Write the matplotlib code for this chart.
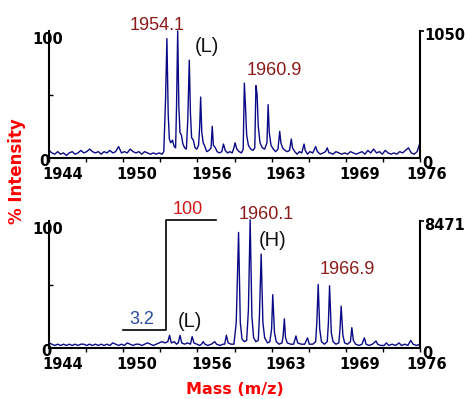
import matplotlib
matplotlib.use("Agg")
import matplotlib.pyplot as plt
from matplotlib.transforms import ScaledTranslation

# ---------------- data ----------------
x_min, x_max = 1944.0, 1976.0
major_ticks = [1944.0, 1950.4, 1956.8, 1963.2, 1969.6, 1976.0]
major_labels = ["1944", "1950", "1956", "1963", "1969", "1976"]
minor_ticks = [1947.2, 1953.6, 1960.0, 1966.4, 1972.8]

top_abs_max = "1050"
bottom_abs_max = "8471"

# top spectrum (light-labelled sample)
top_mass = [
    1944.00, 1944.25, 1944.50, 1944.75, 1945.00, 1945.25, 1945.50, 1945.75,
    1946.00, 1946.25, 1946.50, 1946.75, 1947.00, 1947.25, 1947.50, 1947.75,
    1948.00, 1948.25, 1948.50, 1948.75, 1949.00, 1949.25, 1949.50, 1949.75,
    1950.00, 1950.25, 1950.50, 1950.75, 1951.00, 1951.25, 1951.50, 1951.75,
    1952.00, 1952.25, 1952.50, 1952.75, 1953.00, 1953.25, 1953.50, 1953.75,
    1953.90, 1954.05, 1954.17, 1954.28, 1954.38, 1954.50, 1954.65, 1954.80,
    1954.92, 1955.00, 1955.10, 1955.20, 1955.30, 1955.42, 1955.55, 1955.70,
    1955.85, 1955.97, 1956.10, 1956.20, 1956.30, 1956.45, 1956.60, 1956.75,
    1956.90, 1957.00, 1957.08, 1957.18, 1957.30, 1957.45, 1957.60, 1957.80,
    1957.98, 1958.08, 1958.18, 1958.35, 1958.50, 1958.70, 1958.90, 1959.05,
    1959.20, 1959.40, 1959.60, 1959.80, 1959.95, 1960.05, 1960.20, 1960.40,
    1960.60, 1960.75, 1960.85, 1960.95, 1961.05, 1961.20, 1961.40, 1961.60,
    1961.75, 1961.85, 1961.95, 1962.05, 1962.20, 1962.40, 1962.60, 1962.80,
    1962.90, 1963.00, 1963.15, 1963.35, 1963.55, 1963.75, 1963.90, 1964.00,
    1964.15, 1964.35, 1964.55, 1964.75, 1964.90, 1965.00, 1965.20, 1965.40,
    1965.60, 1965.80, 1966.00, 1966.10, 1966.30, 1966.50, 1966.75, 1967.00,
    1967.15, 1967.40, 1967.65, 1967.85, 1968.00, 1968.15,
    1968.25, 1968.50, 1968.75, 1969.00, 1969.25, 1969.50, 1969.75, 1970.00,
    1970.25, 1970.50, 1970.75, 1971.00, 1971.25, 1971.50, 1971.75, 1972.00,
    1972.25, 1972.50, 1972.75, 1973.00, 1973.25, 1973.50, 1973.75, 1974.00,
    1974.25, 1974.50, 1974.75, 1975.00, 1975.25, 1975.50, 1975.75, 1976.00,
]
top_intensity = [
    6, 4, 3, 5, 3, 4, 2, 4,
    5, 3, 4, 6, 4, 5, 7, 5,
    4, 5, 3, 5, 4, 6, 4, 5,
    9, 4, 5, 4, 7, 5, 4, 5,
    3, 5, 4, 3, 4, 3, 4, 3,
    5, 45, 94, 35, 15, 12, 14, 9,
    8, 40, 100, 40, 20, 18, 11, 8,
    7, 30, 77, 35, 16, 14, 8, 7,
    10, 25, 48, 20, 12, 9, 5, 6,
    8, 25, 10, 8, 5, 4, 5, 11,
    6, 4, 5, 4, 8, 12, 7, 5,
    4, 7, 59, 40, 18, 10, 7, 6,
    8, 57, 50, 25, 12, 8, 7, 12,
    42, 20, 10, 7, 5, 7, 21, 12,
    8, 6, 5, 6, 15, 8, 5, 3,
    5, 4, 11, 6, 3, 5, 4, 9,
    5, 3, 4, 5, 8, 4,
    4, 3, 5, 4, 3, 4, 3, 5,
    4, 3, 4, 5, 3, 6, 4, 7,
    4, 5, 3, 6, 4, 3, 4, 3,
    5, 4, 6, 8, 4, 3, 5, 12,
]

# bottom spectrum (light + heavy mixture)
bottom_mass = [
    1944.00, 1944.25, 1944.50, 1944.75, 1945.00, 1945.25, 1945.50, 1945.75,
    1946.00, 1946.25, 1946.50, 1946.75, 1947.00, 1947.25, 1947.50, 1947.75,
    1948.00, 1948.25, 1948.50, 1948.75, 1949.00, 1949.25, 1949.50, 1949.75,
    1950.00, 1950.25, 1950.50, 1950.75, 1951.00, 1951.25, 1951.50, 1951.75,
    1952.00, 1952.25, 1952.50, 1952.75, 1953.00, 1953.25, 1953.50, 1953.75,
    1954.00, 1954.25, 1954.40, 1954.55, 1954.80, 1955.00, 1955.15, 1955.30,
    1955.45, 1955.70, 1955.95, 1956.20, 1956.35, 1956.50, 1956.75, 1957.00,
    1957.15, 1957.30, 1957.45, 1957.70, 1958.00, 1958.30, 1958.45, 1958.75,
    1959.00, 1959.15, 1959.30, 1959.45, 1959.70, 1959.95, 1960.15, 1960.35,
    1960.50, 1960.65, 1960.85, 1961.05, 1961.20, 1961.35, 1961.50, 1961.65,
    1961.85, 1962.05, 1962.15, 1962.30, 1962.45, 1962.60, 1962.85, 1963.05,
    1963.20, 1963.30, 1963.45, 1963.60, 1963.85, 1964.10, 1964.20, 1964.30,
    1964.40, 1964.55, 1964.85, 1965.10, 1965.30, 1965.45, 1965.75, 1966.05,
    1966.30, 1966.45, 1966.75, 1967.00, 1967.10, 1967.22, 1967.35, 1967.50,
    1967.75, 1968.00, 1968.10, 1968.20, 1968.35, 1968.50, 1968.75, 1969.00,
    1969.10, 1969.20, 1969.35, 1969.50, 1969.75, 1970.00, 1970.12, 1970.25,
    1970.45, 1970.75, 1971.00, 1971.20, 1971.35, 1971.60, 1971.90, 1972.20,
    1972.35, 1972.60, 1972.90, 1973.10, 1973.30, 1973.60, 1973.90, 1974.20,
    1974.40, 1974.70, 1974.95, 1975.20, 1975.40, 1975.70, 1976.00,
]
bottom_intensity = [
    4, 3, 2, 3, 2, 3, 2, 3,
    2, 3, 2, 3, 3, 2, 3, 2,
    3, 2, 3, 2, 3, 2, 4, 3,
    2, 3, 2, 4, 3, 2, 3, 3,
    2, 3, 4, 3, 2, 3, 4, 5,
    4, 5, 10, 4, 5, 3, 4, 10,
    4, 3, 4, 3, 9, 4, 3, 2,
    3, 5, 3, 2, 3, 5, 3, 2,
    3, 3, 10, 4, 3, 3, 20, 91,
    20, 7, 5, 6, 30, 101, 25, 8,
    5, 6, 25, 74, 20, 8, 4, 5,
    15, 42, 12, 5, 3, 4, 10, 23,
    8, 4, 3, 3, 9.5, 4, 3, 3,
    8, 3, 3, 5, 20, 50, 15, 5,
    3, 5, 20, 49, 12, 5, 3, 4,
    15, 33, 10, 4, 3, 5, 16, 6,
    3, 2, 3, 8, 3, 2, 3, 5.5,
    3, 2, 2, 4, 2, 3, 2, 4,
    2, 3, 2, 6, 3, 2, 3,
]

# annotations
top_peak_labels = ["1954.1", "1960.9"]
top_peak_label_pos = [(1953.3, 104.7), (1963.4, 68.7)]
top_species = "(L)"
top_species_pos = (1957.66, 87.6)

bottom_peak_labels = ["1960.1", "1966.9"]
bottom_peak_label_pos = [(1962.7, 105.5), (1969.7, 62.0)]
bottom_species = ["(H)", "(L)"]
bottom_species_pos = [(1963.3, 84.4), (1956.16, 20.9)]

ratio_step_x = [1950.4, 1954.06, 1954.06, 1958.4]
ratio_step_y = [14.3, 14.3, 101.0, 101.0]
ratio_low_label, ratio_low_pos = "3.2", (1952.0, 22.2)
ratio_high_label, ratio_high_pos = "100", (1955.98, 109.0)

# ---------------- style ----------------
LINE_C = "#0a0a86"
PEAK_C = "#8b1a1a"
RED = "#ff0000"
W, H, DPI = 465, 399, 100

fig = plt.figure(figsize=(W / DPI, H / DPI), dpi=DPI)
ax_top = fig.add_axes([49 / W, 1 - 158 / H, 371 / W, 127 / H])
ax_bot = fig.add_axes([49 / W, 1 - 348 / H, 371 / W, 127 / H])

tick_font = dict(family="DejaVu Sans", weight="bold", size=10.5, color="black")


def px(fig, dx, dy):
    return ScaledTranslation(dx / DPI, dy / DPI, fig.dpi_scale_trans)


def style_axes(ax, abs_label, zero_dx_left):
    ax.set_xlim(x_min, x_max)
    ax.set_ylim(0, 100)
    ax.spines["top"].set_visible(False)
    for s in ("left", "right", "bottom"):
        ax.spines[s].set_linewidth(1.5)
        ax.spines[s].set_color("black")
    ax.set_xticks(major_ticks)
    ax.set_xticklabels(major_labels)
    ax.set_xticks(minor_ticks, minor=True)
    ax.tick_params(axis="x", which="both", direction="out", length=3,
                   width=1, pad=3.5)
    for lab in ax.get_xticklabels():
        lab.set_fontfamily("DejaVu Sans")
        lab.set_fontweight("bold")
        lab.set_fontsize(10.5)
    labs = ax.get_xticklabels()
    for i, lab in enumerate(labs):
        dx = 7 if i == len(labs) - 1 else 14
        lab.set_transform(lab.get_transform() + px(fig, dx, 0))
    # y ticks: right top tick outward, left minor at 50 inward
    ax.set_yticks([100])
    ax.set_yticklabels([])
    ax.set_yticks([50], minor=True)
    ax.tick_params(axis="y", which="major", left=False, right=True,
                   direction="out", length=3, width=1.2, labelleft=False)
    ax.tick_params(axis="y", which="minor", left=True, right=False,
                   direction="in", length=3, width=1)
    tr = ax.transAxes
    ax.text(0, 1, "100", transform=tr + px(fig, -1.5, -1), ha="center",
            va="top", **tick_font)
    ax.text(0, 0, "0", transform=tr + px(fig, zero_dx_left, -4),
            ha="center", va="center", **tick_font)
    ax.text(1, 1, abs_label, transform=tr + px(fig, 4, 3), ha="left",
            va="top", **tick_font)
    ax.text(1, 0, "0", transform=tr + px(fig, 7, -5), ha="center",
            va="center", **tick_font)


style_axes(ax_top, top_abs_max, -4.5)
style_axes(ax_bot, bottom_abs_max, -2.5)

ax_top.plot(top_mass, top_intensity, color=LINE_C, lw=1.0, clip_on=False)
ax_bot.plot(bottom_mass, bottom_intensity, color=LINE_C, lw=1.0, clip_on=False)

lab_font = dict(family="Liberation Sans", size=13)
for t, (x, y) in zip(top_peak_labels, top_peak_label_pos):
    ax_top.text(x, y, t, color=PEAK_C, ha="center", va="center",
                clip_on=False, **lab_font)
ax_top.text(*top_species_pos, top_species, color="#111111", ha="center",
            va="center", family="Liberation Sans", size=14.5, clip_on=False)

for t, (x, y) in zip(bottom_peak_labels, bottom_peak_label_pos):
    ax_bot.text(x, y, t, color=PEAK_C, ha="center", va="center",
                clip_on=False, **lab_font)
for t, (x, y) in zip(bottom_species, bottom_species_pos):
    ax_bot.text(x, y, t, color="#111111", ha="center", va="center",
                family="Liberation Sans", size=14.5, clip_on=False)

ax_bot.plot(ratio_step_x, ratio_step_y, color="black", lw=1.2, clip_on=False)
ax_bot.text(*ratio_low_pos, ratio_low_label, color="#2b4c9b", ha="center",
            va="center", family="Liberation Sans", size=13, clip_on=False)
ax_bot.text(*ratio_high_pos, ratio_high_label, color="#d01818", ha="center",
            va="center", family="Liberation Sans", size=13, clip_on=False)

fig.text(17 / W, 1 - 171 / H, "% Intensity", rotation=90, color=RED,
         ha="center", va="center", family="DejaVu Sans", weight="bold",
         size=12)
fig.text(235 / W, 1 - 390 / H, "Mass (m/z)", color=RED, ha="center",
         va="center", family="DejaVu Sans", weight="bold", size=11.5)

fig.savefig("out.png", dpi=DPI)
